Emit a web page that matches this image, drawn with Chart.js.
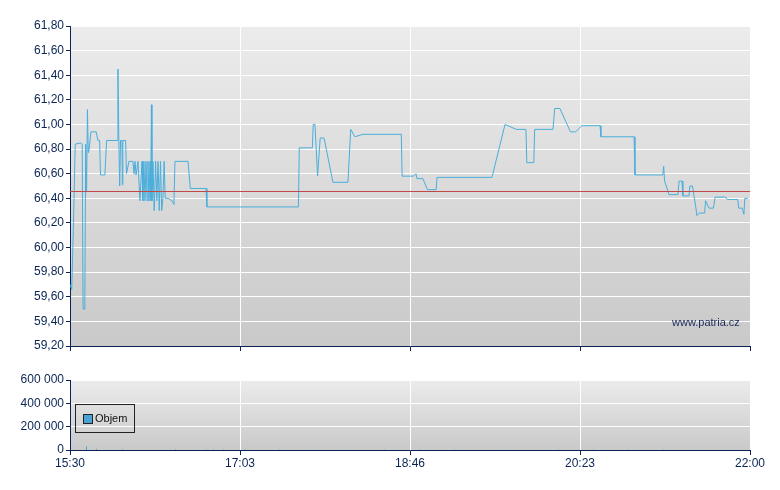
<!DOCTYPE html>
<html><head><meta charset="utf-8">
<script src="https://cdn.jsdelivr.net/npm/chart.js@4/dist/chart.umd.min.js"></script>
<style>
body{margin:0;background:#fff;width:780px;height:490px;position:relative;overflow:hidden;font-family:"Liberation Sans",Arial,sans-serif}
canvas{position:absolute;left:0}
#wm{position:absolute;left:672px;top:316px;font-size:11px;color:#1a2a5a}
#lg{position:absolute;left:75px;top:404px;width:60px;height:29px;border:1px solid #222;font-size:11px;color:#111;box-sizing:border-box}
#lg span.sq{position:absolute;left:7px;top:9px;width:8px;height:8px;background:#4aa3d8;border:1px solid #222}
#lg span.t{position:absolute;left:19px;top:7px}
</style></head><body>
<canvas id="c1" style="top:0" width="780" height="360"></canvas>
<canvas id="c2" style="top:360px" width="780" height="130"></canvas>
<div id="wm">www.patria.cz</div>
<div id="lg"><span class="sq"></span><span class="t">Objem</span></div>
<script>
// minutes since 15:30 (axis spans 390)
const priceMinutes=[0,1,2,3,6,7,7.5,8.5,9,9.5,10,10.5,11,12,15,16,17,17.5,20,21,27,27.5,28,28.5,29,29.8,30,30.3,31.9,32.4,33.8,36.1,36.7,37.3,37.9,39,40.1,41.3,41.8,42.4,43,43.6,44.2,44.7,45.3,45.9,46.3,46.7,47,47.6,48.3,49.1,49.8,50.5,51.2,51.9,52.6,53.3,54.0,54.6,56.2,58.5,59.6,60.2,67.7,69,78,78.5,131,131.5,139,139.5,140.5,142,143.5,145.7,150.8,159.4,161,163.4,168,190,190.5,197,198.4,199,202.4,205,210,210.5,242,249.5,256,261.5,262,266,266.5,277,278,281,287,290,293.6,304,304.5,323.5,324,340,340.5,341,342,343.5,348.7,349.3,351,351.5,355,355.5,357,359,359.5,361,364,364.5,366.5,369,370,376,377,383,383.5,385.5,386.5,387,388.8];
const priceValues=[59.70,59.66,60.20,60.84,60.85,60.84,59.50,59.50,60.84,60.45,61.12,60.77,60.80,60.94,60.94,60.87,60.87,60.59,60.59,60.87,60.87,61.45,60.87,60.50,60.87,60.87,60.51,60.87,60.87,60.60,60.70,60.70,60.60,60.70,60.59,60.70,60.38,60.70,60.38,60.70,60.38,60.70,60.38,60.70,60.38,60.70,60.38,61.16,60.38,60.70,60.30,60.70,60.38,60.70,60.30,60.70,60.30,60.40,60.70,60.40,60.40,60.38,60.35,60.70,60.70,60.48,60.48,60.33,60.33,60.81,60.81,61.00,61.00,60.58,60.89,60.89,60.53,60.53,60.96,60.90,60.92,60.92,60.58,60.58,60.60,60.56,60.56,60.47,60.47,60.57,60.57,61.00,60.96,60.96,60.69,60.69,60.96,60.96,61.13,61.13,60.94,60.94,60.99,60.99,60.90,60.90,60.59,60.59,60.66,60.54,60.50,60.43,60.43,60.54,60.54,60.42,60.42,60.50,60.50,60.32,60.26,60.28,60.28,60.38,60.32,60.32,60.41,60.41,60.39,60.39,60.32,60.32,60.27,60.40,60.40];
const refPrice=60.46;
const volMinutes=[9,15,30,60,78,82,88,100,120,140,160,180,200,220,250,280,300,320,340,360,380];
const volValues=[30000,8000,6000,5000,4000,4000,4000,3000,3000,3000,3000,3000,3000,3000,3000,3000,3000,3000,3000,3000,3000];
const xTicks=[0,97.5,195,292.5,390];
const xTickLabels=['15:30','17:03','18:46','20:23','22:00'];
const priceTicks=[59.2,59.4,59.6,59.8,60.0,60.2,60.4,60.6,60.8,61.0,61.2,61.4,61.6,61.8];
const volTicks=[0,200000,400000,600000];

const navy='#0a2454';
const bgPlugin={id:'bg',beforeDraw(c){const a=c.chartArea,x=c.ctx;const g=x.createLinearGradient(0,a.top,0,a.bottom);g.addColorStop(0,'#ececec');g.addColorStop(1,'#c9c9c9');x.save();x.fillStyle=g;x.fillRect(a.left,a.top,a.right-a.left,a.bottom-a.top);x.restore();}};
const refPlugin={id:'ref',afterDatasetsDraw(c){const y=c.scales.y.getPixelForValue(refPrice),a=c.chartArea,x=c.ctx;x.save();x.strokeStyle='#c04848';x.lineWidth=1;x.beginPath();x.moveTo(a.left,Math.round(y)+0.5);x.lineTo(a.right,Math.round(y)+0.5);x.stroke();x.restore();}};
const font={family:'"Liberation Sans",Arial,sans-serif',size:12};
function xScale(showLabels,h){return {type:'linear',min:0,max:390,offset:false,
  afterBuildTicks(s){s.ticks=xTicks.map(v=>({value:v}));},
  afterFit(s){s.height=h;},
  grid:{color:'#fff',tickColor:navy,tickLength:5,drawOnChartArea:true,offset:false},
  border:{color:navy,width:1},
  ticks:{display:showLabels,color:navy,font,maxRotation:0,padding:1,autoSkip:false,callback:(v)=>xTickLabels[xTicks.indexOf(v)]}};}
function yScale(ticks,fmt){return {type:'linear',min:ticks[0],max:ticks[ticks.length-1],
  afterBuildTicks(s){s.ticks=ticks.map(v=>({value:v}));},
  afterFit(s){s.width=70;},
  grid:{color:'#fff',tickColor:navy,tickLength:4},
  border:{color:navy,width:1},
  ticks:{color:navy,font,padding:2,callback:fmt}};}
new Chart(document.getElementById('c1'),{type:'line',
 data:{datasets:[{data:priceMinutes.map((m,i)=>({x:m,y:priceValues[i]})),borderColor:'#4aaedc',borderWidth:1,pointRadius:0,tension:0}]},
 options:{responsive:false,animation:false,layout:{padding:{top:26,right:30,left:0,bottom:0}},
  plugins:{legend:{display:false},tooltip:{enabled:false}},
  scales:{x:xScale(false,14),y:yScale(priceTicks,v=>v.toFixed(2).replace('.',','))}},
 plugins:[bgPlugin,refPlugin]});
new Chart(document.getElementById('c2'),{type:'line',
 data:{datasets:[{data:volMinutes.map((m,i)=>({x:m,y:volValues[i]})),showLine:false,pointRadius:0,borderWidth:0}]},
 options:{responsive:false,animation:false,layout:{padding:{top:20,right:30,left:0,bottom:0}},
  plugins:{legend:{display:false},tooltip:{enabled:false}},
  scales:{x:xScale(true,40),y:yScale(volTicks,v=>v===0?'0':(v/1000)+' 000')}},
 plugins:[bgPlugin,{id:'vbars',afterDatasetsDraw(c){const x=c.ctx,xs=c.scales.x,ys=c.scales.y;x.save();x.strokeStyle='#4aa3d8';x.lineWidth=1;volMinutes.forEach((m,i)=>{const px=Math.round(xs.getPixelForValue(m))+0.5;x.beginPath();x.moveTo(px,ys.getPixelForValue(0));x.lineTo(px,ys.getPixelForValue(volValues[i]));x.stroke();});x.restore();}}]});
</script></body></html>
